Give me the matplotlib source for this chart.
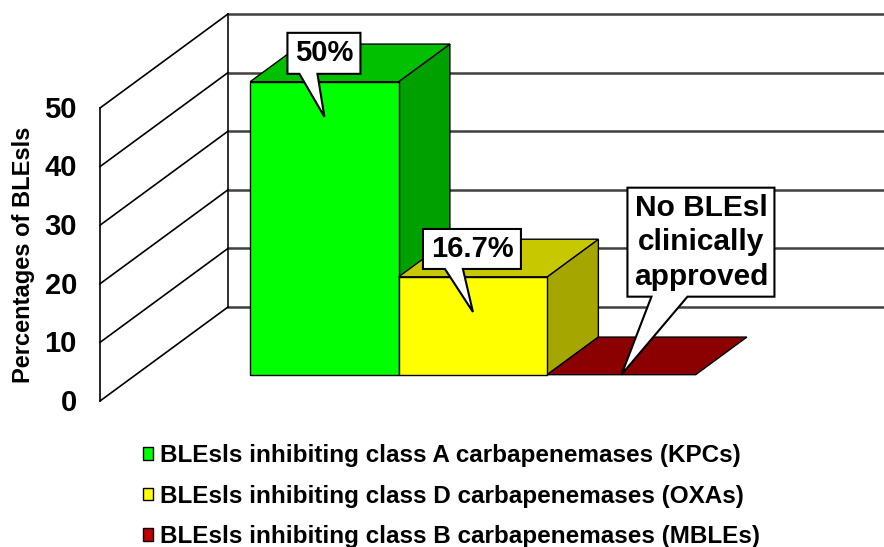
import matplotlib.pyplot as plt
from matplotlib.patches import Polygon, Patch

# data
categories = ["BLEsls inhibiting class A carbapenemases (KPCs)",
              "BLEsls inhibiting class D carbapenemases (OXAs)",
              "BLEsls inhibiting class B carbapenemases (MBLEs)"]
values = [50, 16.7, 0]
callout_text = ["50%", "16.7%", "No BLEsl\nclinically\napproved"]
yticks = [0, 10, 20, 30, 40, 50]
ylabel = "Percentages of BLEsls"

front_colors = ["#00ff00", "#ffff00", "#c00000"]
top_colors = ["#00c000", "#c8c800", "#8b0000"]
side_colors = ["#00a000", "#a6a600", "#700000"]

plt.rcParams['font.family'] = ['Liberation Sans', 'DejaVu Sans']

# fake 3d layout: pixels per x unit / per value unit, depth vector of the walls
PXX, PXY = 148.5, 5.86
DX, DY = 128 / PXX, 94 / PXY
D0, D1 = 0.28, 0.68          # depth range of the columns
WALL_X = -1.27               # front-left edge of the side wall


def proj(x, y, d):
    return x + DX * d, y + DY * d


fig = plt.figure(figsize=(8.84, 5.47), dpi=100)
ax = fig.add_axes([0, 0, 1, 1])
ax.set_xlim(-288.6 / PXX, (884 - 288.6) / PXX)
ax.set_ylim(-146 / PXY, 401 / PXY)
ax.axis('off')

ymax = yticks[-1]

# back wall
for t in yticks:
    ax.plot([WALL_X + DX, 10], [t + DY, t + DY], color='#404040', lw=1.8, zorder=1)
ax.plot([WALL_X + DX] * 2, [DY, ymax + DY], color='#202020', lw=1.3, zorder=1)

# side wall
for t in yticks:
    ax.plot([WALL_X, WALL_X + DX], [t, t + DY], color='black', lw=1.2, zorder=1)
    ax.text(WALL_X - 0.155, t - 0.3, str(t), ha='right', va='center',
            fontsize=21, fontweight='bold')
ax.plot([WALL_X] * 2, [0, ymax], color='black', lw=1.2, zorder=1)

ax.text(-1.788, 24.9, ylabel, rotation=90, ha='center', va='center',
        fontsize=17, fontweight='bold')

# columns
for i, v in enumerate(values):
    x0, x1 = i - 0.5, i + 0.5
    side = [proj(x1, 0, D0), proj(x1, 0, D1), proj(x1, v, D1), proj(x1, v, D0)]
    top = [proj(x0, v, D0), proj(x1, v, D0), proj(x1, v, D1), proj(x0, v, D1)]
    front = [proj(x0, 0, D0), proj(x1, 0, D0), proj(x1, v, D0), proj(x0, v, D0)]
    z = 2 + i
    if v > 0:
        ax.add_patch(Polygon(side, closed=True, fc=side_colors[i], ec='black', lw=1, zorder=z))
    ax.add_patch(Polygon(top, closed=True, fc=top_colors[i], ec='black', lw=1, zorder=z))
    if v > 0:
        ax.add_patch(Polygon(front, closed=True, fc=front_colors[i], ec='black', lw=1, zorder=z))

# callouts: box offsets in pixels from the tip (left, right, top, bottom, base left, base right)
callout_box = [(-37, 36, -84, -43, -25, -7),
               (-50, 48, -83, -43, -28, -10),
               (6, 153, -187, -78, 30, 66)]
callout_size = [21, 21, 21.5]

for i, v in enumerate(values):
    tx, ty = proj(i, v - min(6, v), D0)
    l, r, t, b, bl, br = callout_box[i]

    def off(ox, oy):
        return tx + ox / PXX, ty - oy / PXY

    verts = [off(l, t), off(r, t), off(r, b), off(br, b), off(0, 0), off(bl, b), off(l, b)]
    ax.add_patch(Polygon(verts, closed=True, fc='white', ec='black', lw=1.5, zorder=10))
    cx, cy = off((l + r) / 2, (t + b) / 2)
    ax.text(cx, cy, callout_text[i], ha='center', va='center', fontsize=callout_size[i],
            fontweight='bold', linespacing=1.3, zorder=11)

handles = [Patch(facecolor=c, edgecolor='black', lw=1) for c in front_colors]
fig.legend(handles, categories, loc='upper left', bbox_to_anchor=(143 / 884, 1 - 444 / 547),
           frameon=False, prop=dict(weight='bold', size=17.5),
           handlelength=0.42, handleheight=0.42, handletextpad=0.3,
           labelspacing=0.72, borderpad=0, borderaxespad=0)

fig.savefig('out.png', dpi=100)
